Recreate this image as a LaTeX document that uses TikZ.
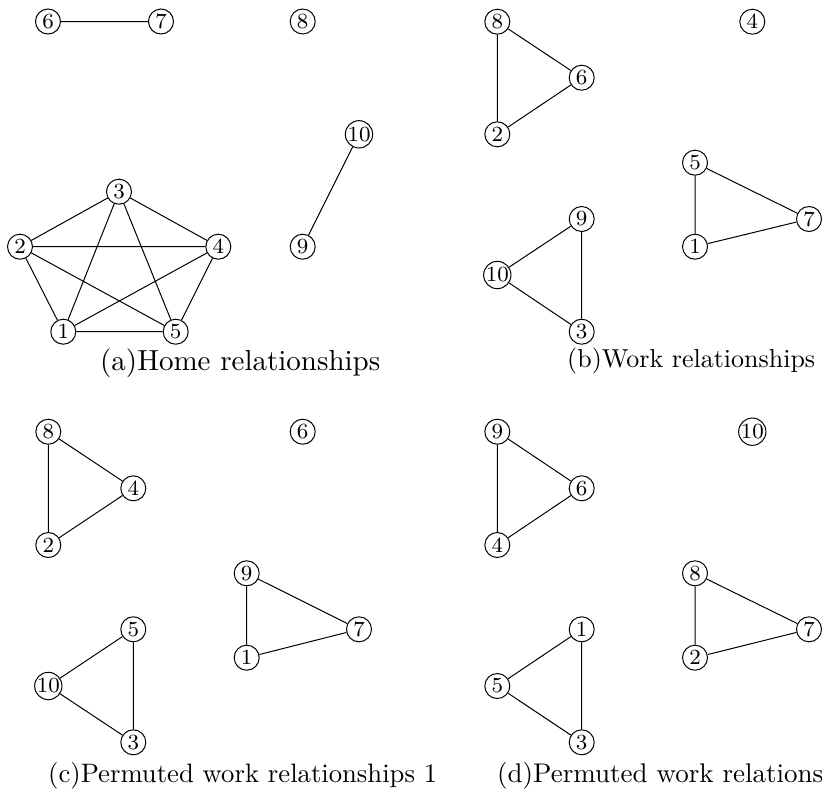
\documentclass[tikz,border=0pt]{standalone}
\usepackage{graphicx}
\newcommand{\vlab}[1]{\scalebox{2.7}{\fontsize{8}{9}\selectfont #1}}
\begin{document}
\begin{tikzpicture}[x=1pt,y=-1pt,
  vtx/.style={circle,draw,line width=1pt,inner sep=0pt,minimum size=25pt},
  edge/.style={line width=1pt},
  captxt/.style={inner sep=0pt,anchor=base west}]
\useasboundingbox (0,0) rectangle (824,793);
% ---- (a) ----
\node[vtx] (a6) at (48,21.5) {\vlab{6}};
\node[vtx] (a7) at (161,21.5) {\vlab{7}};
\node[vtx] (a8) at (302.7,21.5) {\vlab{8}};
\node[vtx] (a10) at (359,134.3) {\vlab{10}};
\node[vtx] (a9) at (302.7,246.7) {\vlab{9}};
\node[vtx] (a3) at (119,191.7) {\vlab{3}};
\node[vtx] (a2) at (20,246.7) {\vlab{2}};
\node[vtx] (a4) at (218.3,246.7) {\vlab{4}};
\node[vtx] (a1) at (63.3,331.7) {\vlab{1}};
\node[vtx] (a5) at (175.7,331.7) {\vlab{5}};
\draw[edge] (a6)--(a7) (a10)--(a9);
\draw[edge] (a1)--(a2) (a1)--(a3) (a1)--(a4) (a1)--(a5) (a2)--(a3) (a2)--(a4) (a2)--(a5) (a3)--(a4) (a3)--(a5) (a4)--(a5);
\node[captxt] (capa) at (100,370) {\resizebox{280pt}{!}{(a)Home relationships}};
% ---- (b) ----
\node[vtx] (b8) at (497.3,21.7) {\vlab{8}};
\node[vtx] (b4) at (752.3,21.7) {\vlab{4}};
\node[vtx] (b6) at (581.7,77.7) {\vlab{6}};
\node[vtx] (b2) at (497.3,134.3) {\vlab{2}};
\node[vtx] (b5) at (695,162.7) {\vlab{5}};
\node[vtx] (b7) at (809,219) {\vlab{7}};
\node[vtx] (b9) at (581.7,219) {\vlab{9}};
\node[vtx] (b1) at (695,246.7) {\vlab{1}};
\node[vtx] (b10) at (497.3,275) {\vlab{10}};
\node[vtx] (b3) at (581.7,331.7) {\vlab{3}};
\draw[edge] (b8)--(b6) (b8)--(b2) (b6)--(b2) (b5)--(b7) (b5)--(b1) (b1)--(b7) (b9)--(b10) (b9)--(b3) (b10)--(b3);
\node[captxt] (capb) at (567,367) {\resizebox{248pt}{!}{(b)Work relationships}};
% ---- (c) ----
\node[vtx] (c8) at (48.3,431.7) {\vlab{8}};
\node[vtx] (c6) at (302.7,431.7) {\vlab{6}};
\node[vtx] (c4) at (133.3,488.3) {\vlab{4}};
\node[vtx] (c2) at (48.3,545) {\vlab{2}};
\node[vtx] (c9) at (246.7,573.3) {\vlab{9}};
\node[vtx] (c5) at (133.3,629.3) {\vlab{5}};
\node[vtx] (c7) at (359,629.3) {\vlab{7}};
\node[vtx] (c1) at (246.7,657.7) {\vlab{1}};
\node[vtx] (c10) at (48.3,686) {\vlab{10}};
\node[vtx] (c3) at (133.3,742.3) {\vlab{3}};
\draw[edge] (c8)--(c4) (c8)--(c2) (c4)--(c2) (c9)--(c7) (c9)--(c1) (c1)--(c7) (c5)--(c10) (c5)--(c3) (c10)--(c3);
\node[captxt] (capc) at (48,782) {\resizebox{389pt}{!}{(c)Permuted work relationships 1}};
% ---- (d) ----
\node[vtx] (d9) at (497.3,431.7) {\vlab{9}};
\node[vtx] (d10) at (752.3,431.7) {\vlab{10}};
\node[vtx] (d6) at (581.7,488.3) {\vlab{6}};
\node[vtx] (d4) at (497.3,545) {\vlab{4}};
\node[vtx] (d8) at (695,573.3) {\vlab{8}};
\node[vtx] (d1) at (581.7,629.3) {\vlab{1}};
\node[vtx] (d7) at (809,629.3) {\vlab{7}};
\node[vtx] (d2) at (695,657.7) {\vlab{2}};
\node[vtx] (d5) at (497.3,686) {\vlab{5}};
\node[vtx] (d3) at (581.7,742.3) {\vlab{3}};
\draw[edge] (d9)--(d6) (d9)--(d4) (d6)--(d4) (d8)--(d7) (d8)--(d2) (d2)--(d7) (d1)--(d5) (d1)--(d3) (d5)--(d3);
\node[captxt] (capd) at (497,782) {\resizebox{326pt}{!}{(d)Permuted work relations}};
\end{tikzpicture}
\end{document}
